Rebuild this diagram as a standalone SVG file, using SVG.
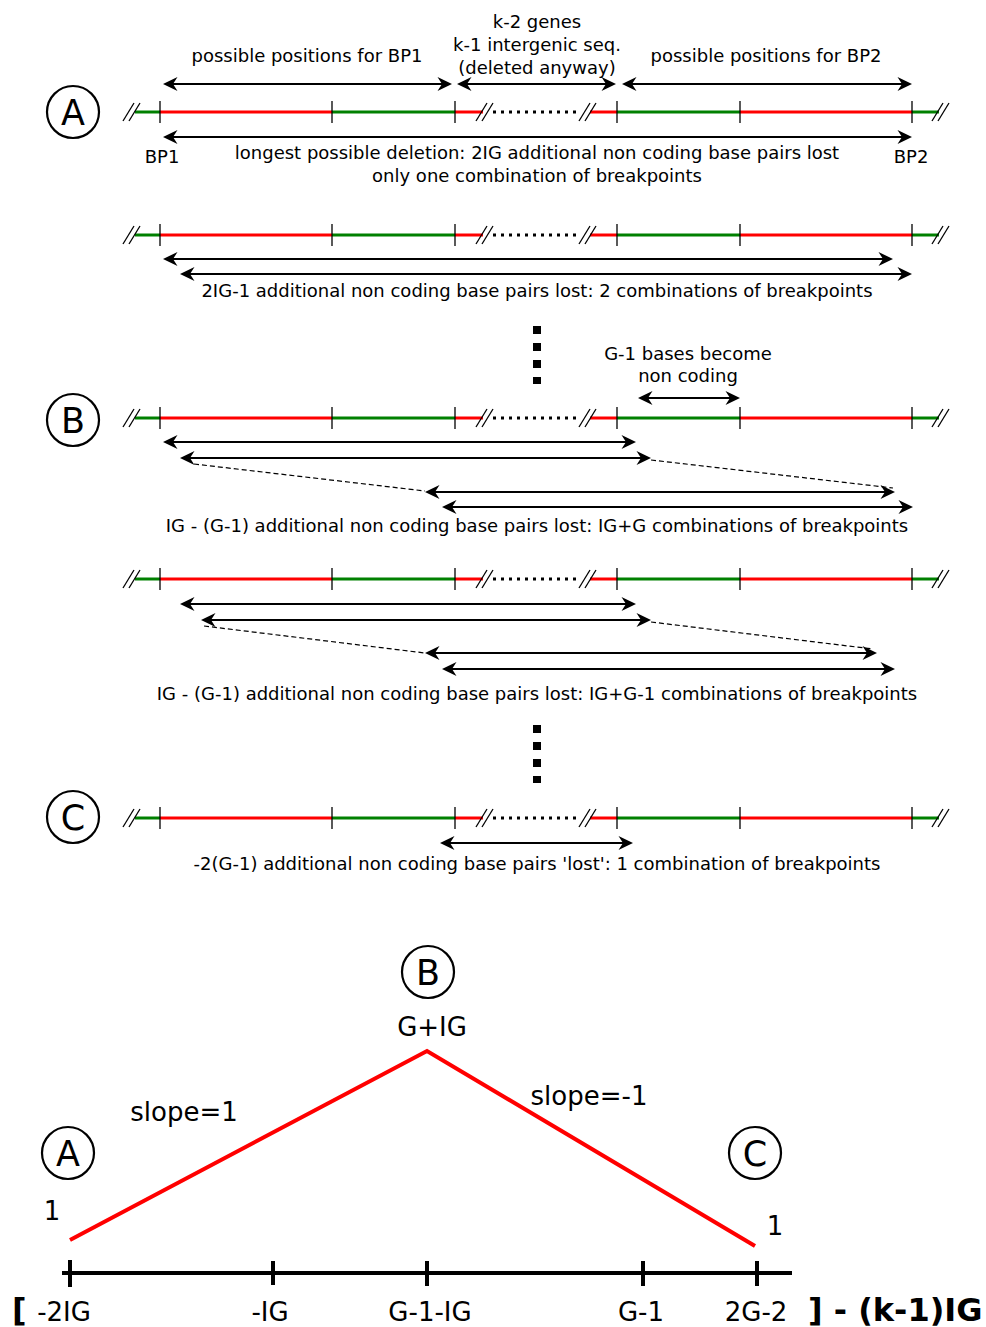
<svg xmlns="http://www.w3.org/2000/svg" xmlns:xlink="http://www.w3.org/1999/xlink" width="986" height="1327" viewBox="0 0 986 1327">
  <style>
    .t { font-family: "DejaVu Sans", "Liberation Sans", sans-serif; font-size: 18px; fill: #000; text-anchor: middle; }
    .big { font-family: "DejaVu Sans", "Liberation Sans", sans-serif; font-size: 26px; fill: #000; text-anchor: middle; }
    .bold { font-family: "DejaVu Sans", "Liberation Sans", sans-serif; font-size: 32px; font-weight: bold; fill: #000; }
    .circ { fill: none; stroke: #000; stroke-width: 2.2; }
    .letter { font-family: "DejaVu Sans", "Liberation Sans", sans-serif; font-size: 35px; fill: #000; text-anchor: middle; }
    .g { stroke: #008000; stroke-width: 3; fill: none; }
    .r { stroke: #ff0000; stroke-width: 3; fill: none; }
    .tick { stroke: #000; stroke-width: 1.3; }
    .slash { stroke: #000; stroke-width: 1.3; }
    .dots { stroke: #000; stroke-width: 3; stroke-dasharray: 3 5; }
    .arr { stroke: #000; stroke-width: 2; fill: none; marker-start: url(#head); marker-end: url(#head); }
    .dash { stroke: #000; stroke-width: 1.2; stroke-dasharray: 5 3; fill: none; }
    .vdots { stroke: #000; stroke-width: 8; stroke-dasharray: 8 9; }
    .axis { stroke: #000; stroke-width: 4; }
    .curve { stroke: #ff0000; stroke-width: 4; fill: none; }
  </style>
  <defs>
    <marker id="head" viewBox="-14 -8 17 16" refX="0" refY="0" markerWidth="17" markerHeight="16" markerUnits="userSpaceOnUse" orient="auto-start-reverse">
      <path d="M 2 0 L -12.5 -7 L -8 0 L -12.5 7 Z" fill="#000"/>
    </marker>
    <!-- one chromosome segment drawn around y = 0 -->
    <g id="chrom">
      <line class="g" x1="135" y1="0" x2="160" y2="0"/>
      <line class="r" x1="160" y1="0" x2="332" y2="0"/>
      <line class="g" x1="332" y1="0" x2="455" y2="0"/>
      <line class="r" x1="455" y1="0" x2="483" y2="0"/>
      <line class="dots" x1="493" y1="0" x2="580" y2="0"/>
      <line class="r" x1="590" y1="0" x2="617" y2="0"/>
      <line class="g" x1="617" y1="0" x2="740" y2="0"/>
      <line class="r" x1="740" y1="0" x2="912" y2="0"/>
      <line class="g" x1="912" y1="0" x2="939" y2="0"/>
      <g class="tick">
        <line x1="160" y1="-11" x2="160" y2="11"/>
        <line x1="332" y1="-11" x2="332" y2="11"/>
        <line x1="455" y1="-11" x2="455" y2="11"/>
        <line x1="617" y1="-11" x2="617" y2="11"/>
        <line x1="740" y1="-11" x2="740" y2="11"/>
        <line x1="912" y1="-11" x2="912" y2="11"/>
      </g>
      <g class="slash">
        <line x1="123" y1="9" x2="134" y2="-9"/><line x1="129" y1="9" x2="140" y2="-9"/>
        <line x1="476" y1="9" x2="487" y2="-9"/><line x1="482" y1="9" x2="493" y2="-9"/>
        <line x1="579" y1="9" x2="590" y2="-9"/><line x1="585" y1="9" x2="596" y2="-9"/>
        <line x1="932" y1="9" x2="943" y2="-9"/><line x1="938" y1="9" x2="949" y2="-9"/>
      </g>
    </g>
  </defs>

  <rect width="986" height="1327" fill="#fff"/>

  <!-- case A: longest deletion -->
  <g id="caseA">
    <circle class="circ" cx="73" cy="112" r="26"/>
    <text class="letter" x="73" y="125">A</text>
    <use xlink:href="#chrom" y="112"/>
    <text class="t" x="537" y="28">k-2 genes</text>
    <text class="t" x="537" y="51">k-1 intergenic seq.</text>
    <text class="t" x="537" y="74">(deleted anyway)</text>
    <text class="t" x="307" y="62">possible positions for BP1</text>
    <text class="t" x="766" y="62">possible positions for BP2</text>
    <text class="t" x="162" y="163">BP1</text>
    <text class="t" x="911" y="163">BP2</text>
    <text class="t" x="537" y="159">longest possible deletion: 2IG additional non coding base pairs lost</text>
    <text class="t" x="537" y="182">only one combination of breakpoints</text>
  </g>

  <!-- second row: 2IG-1 -->
  <g id="row2">
    <use xlink:href="#chrom" y="235"/>
    <text class="t" x="537" y="297">2IG-1 additional non coding base pairs lost: 2 combinations of breakpoints</text>
  </g>

  <!-- case B: maximum number of combinations -->
  <g id="caseB">
    <circle class="circ" cx="73" cy="420" r="26"/>
    <text class="letter" x="73" y="433">B</text>
    <use xlink:href="#chrom" y="418"/>
    <text class="t" x="688" y="360">G-1 bases become</text>
    <text class="t" x="688" y="382">non coding</text>
    <text class="t" x="537" y="532">IG - (G-1) additional non coding base pairs lost: IG+G combinations of breakpoints</text>
  </g>

  <!-- row after B -->
  <g id="row4">
    <use xlink:href="#chrom" y="579"/>
    <text class="t" x="537" y="700">IG - (G-1) additional non coding base pairs lost: IG+G-1 combinations of breakpoints</text>
  </g>

  <!-- case C: shortest deletion -->
  <g id="caseC">
    <circle class="circ" cx="73" cy="817" r="26"/>
    <text class="letter" x="73" y="830">C</text>
    <use xlink:href="#chrom" y="818"/>
    <text class="t" x="537" y="870">-2(G-1) additional non coding base pairs 'lost': 1 combination of breakpoints</text>
  </g>

  <!-- connectors: extent arrows, dashed continuations, ellipsis dots -->
  <g id="connectors">
    <line class="arr" x1="165" y1="84" x2="450" y2="84"/>
    <line class="arr" x1="459" y1="84" x2="614" y2="84"/>
    <line class="arr" x1="624" y1="84" x2="910" y2="84"/>
    <line class="arr" x1="165" y1="137" x2="910" y2="137"/>

    <line class="arr" x1="165" y1="259" x2="891" y2="259"/>
    <line class="arr" x1="182" y1="274" x2="910" y2="274"/>

    <line class="vdots" x1="537" y1="326" x2="537" y2="384"/>

    <line class="arr" x1="640" y1="398" x2="738" y2="398"/>

    <line class="arr" x1="165" y1="442" x2="634" y2="442"/>
    <line class="arr" x1="182" y1="458" x2="649" y2="458"/>
    <line class="arr" x1="427" y1="492" x2="893" y2="492"/>
    <line class="arr" x1="444" y1="507" x2="911" y2="507"/>
    <line class="dash" x1="194" y1="464" x2="425" y2="491"/>
    <line class="dash" x1="651" y1="460" x2="893" y2="488"/>

    <line class="arr" x1="182" y1="604" x2="634" y2="604"/>
    <line class="arr" x1="203" y1="620" x2="649" y2="620"/>
    <line class="arr" x1="427" y1="653" x2="875" y2="653"/>
    <line class="arr" x1="444" y1="669" x2="893" y2="669"/>
    <line class="dash" x1="204" y1="626" x2="425" y2="653"/>
    <line class="dash" x1="651" y1="622" x2="873" y2="649"/>

    <line class="vdots" x1="537" y1="725" x2="537" y2="783"/>

    <line class="arr" x1="442" y1="843" x2="631" y2="843"/>
  </g>

  <!-- plot: number of breakpoint combinations vs. non coding bases lost -->
  <g id="plot">
    <line class="axis" x1="62" y1="1273" x2="792" y2="1273"/>
    <line class="axis" x1="70" y1="1260" x2="70" y2="1287"/>
    <line class="axis" x1="273" y1="1261" x2="273" y2="1285"/>
    <line class="axis" x1="427" y1="1261" x2="427" y2="1286"/>
    <line class="axis" x1="643" y1="1261" x2="643" y2="1286"/>
    <line class="axis" x1="757" y1="1261" x2="757" y2="1286"/>
    <polyline class="curve" points="70,1240 427,1051 755,1246"/>
    <text class="big" x="52" y="1220">1</text>
    <text class="big" x="775" y="1235">1</text>
    <text class="big" x="184" y="1121">slope=1</text>
    <text class="big" x="589" y="1105">slope=-1</text>
    <text class="big" x="432" y="1036">G+IG</text>
    <text class="big" x="64" y="1321">-2IG</text>
    <text class="big" x="270" y="1321">-IG</text>
    <text class="big" x="430" y="1321">G-1-IG</text>
    <text class="big" x="641" y="1321">G-1</text>
    <text class="big" x="756" y="1321">2G-2</text>
    <text class="bold" x="12" y="1321">[</text>
    <text class="bold" x="808" y="1321">] - (k-1)IG</text>
  </g>
  <g id="plotA">
    <circle class="circ" cx="68" cy="1153" r="26"/>
    <text class="letter" x="68" y="1166">A</text>
  </g>
  <g id="plotB">
    <circle class="circ" cx="428" cy="972" r="26"/>
    <text class="letter" x="428" y="985">B</text>
  </g>
  <g id="plotC">
    <circle class="circ" cx="755" cy="1153" r="26"/>
    <text class="letter" x="755" y="1166">C</text>
  </g>
</svg>
